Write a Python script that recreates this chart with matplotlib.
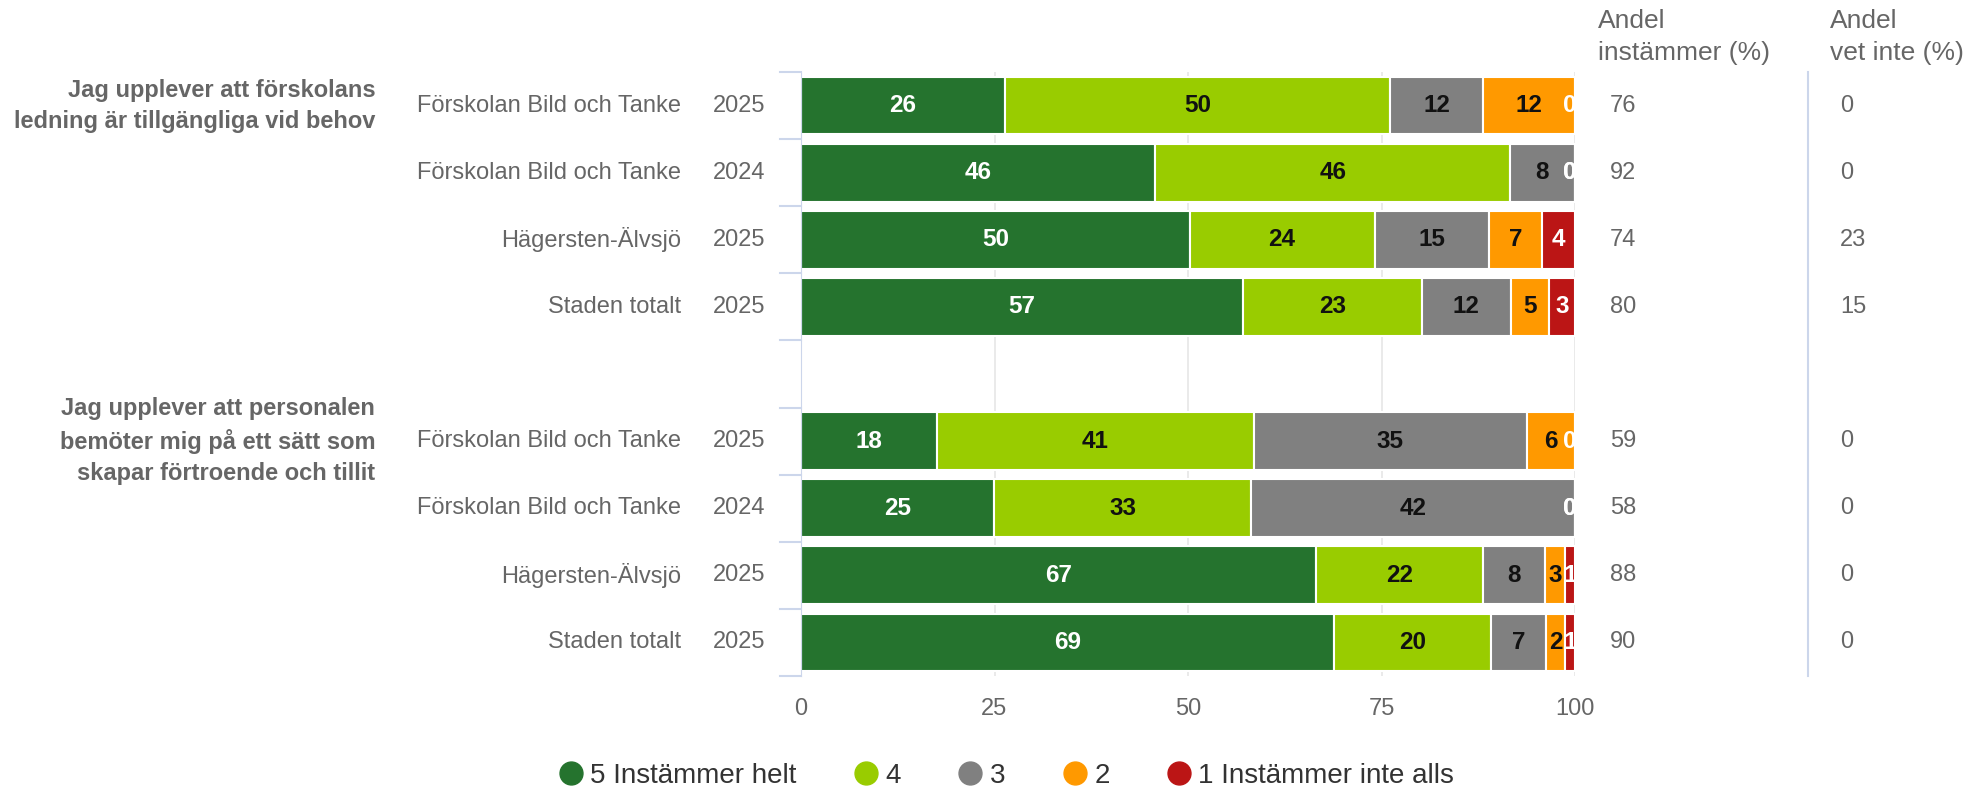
import matplotlib
matplotlib.use("Agg")
import matplotlib.pyplot as plt
from matplotlib.lines import Line2D

plt.rcParams['font.family'] = ['Liberation Sans', 'DejaVu Sans']

groups = ["Jag upplever att förskolans\nledning är tillgängliga vid behov",
          "Jag upplever att personalen\nbemöter mig på ett sätt som\nskapar förtroende och tillit"]
units = ["Förskolan Bild och Tanke", "Förskolan Bild och Tanke", "Hägersten-Älvsjö", "Staden totalt"]
years = ["2025", "2024", "2025", "2025"]
series_names = ["5 Instämmer helt", "4", "3", "2", "1 Instämmer inte alls"]
colors = ["#25732e", "#99cc00", "#808080", "#ff9900", "#bb1515"]
label_colors = ["white", "#111111", "#111111", "#111111", "white"]

# shares per row (series 5,4,3,2,1)
g1_values = [[26.3, 49.8, 12.0, 11.9, 0],
             [45.8, 45.8, 8.4, 0, 0],
             [50.2, 23.9, 14.8, 6.9, 4.2],
             [57.1, 23.1, 11.5, 5.0, 3.3]]
g2_values = [[17.6, 40.9, 35.3, 6.2, 0],
             [24.9, 33.3, 41.8, 0, 0],
             [66.6, 21.5, 8.0, 2.6, 1.3],
             [68.8, 20.4, 7.1, 2.4, 1.3]]
g1_agree = [76, 92, 74, 80]
g1_dontknow = [0, 0, 23, 15]
g2_agree = [59, 58, 88, 90]
g2_dontknow = [0, 0, 0, 0]
x_ticks = [0, 25, 50, 75, 100]

W, H = 1972, 791
fig = plt.figure(figsize=(W / 100, H / 100), dpi=100)
ax = fig.add_axes([801 / W, 115 / H, 774 / W, (676 - 72) / H])

ax.set_xlim(0, 100)
ax.set_ylim(8.5, -0.5)
for t in x_ticks:
    ax.axvline(t, color="#e6e6e6", lw=1.2, zorder=0)

grey = "#666666"
all_values = [g1_values, g2_values]
all_agree = [g1_agree, g2_agree]
all_dk = [g1_dontknow, g2_dontknow]
yaxis_tr = ax.get_yaxis_transform()

for gi in range(2):
    base = gi * 5
    for ri in range(4):
        y = base + ri
        left = 0
        for si, v in enumerate(all_values[gi][ri]):
            ax.barh(y, v, left=left, height=0.86, color=colors[si],
                    edgecolor="white", linewidth=1.5, zorder=2)
            if v > 0:
                ax.text(left + v / 2, y, str(int(round(v))), ha="center", va="center",
                        fontsize=17.5, fontweight="bold", color=label_colors[si], zorder=3)
            else:
                ax.text(min(left, 99.3), y, "0", ha="center", va="center",
                        fontsize=17.5, fontweight="bold", color="white", zorder=3,
                        clip_on=True)
            left += v
        ax.text(-0.155, y, units[ri], transform=yaxis_tr, ha="right", va="center",
                fontsize=17, color=grey)
        ax.text(-0.0465, y, years[ri], transform=yaxis_tr, ha="right", va="center",
                fontsize=17, color=grey)
        ax.text((1610 - 801) / 774, y, str(all_agree[gi][ri]), transform=yaxis_tr,
                ha="left", va="center", fontsize=17, color=grey, clip_on=False)
        ax.text((1840 - 801) / 774, y, str(all_dk[gi][ri]), transform=yaxis_tr,
                ha="left", va="center", fontsize=17, color=grey, clip_on=False)
    ax.text(-0.550, base, groups[gi], transform=yaxis_tr, ha="right", va="center",
            fontsize=17, fontweight="bold", color=grey, linespacing=1.45)

# category axis tick marks
for b in [i - 0.5 for i in range(10)]:
    ax.plot([-0.027, 0], [b, b], transform=yaxis_tr, color="#ccd6eb", lw=1.5,
            clip_on=False, zorder=1)

for s in ["top", "right", "bottom"]:
    ax.spines[s].set_visible(False)
ax.spines["left"].set_color("#ccd6eb")
ax.set_yticks([])
ax.set_xticks(x_ticks)
ax.set_xticklabels([str(t) for t in x_ticks])
ax.tick_params(axis="x", length=0, pad=16, labelsize=17, labelcolor=grey)

# separator line between right columns
fig.add_artist(Line2D([1808 / W, 1808 / W], [1 - 72 / H, 1 - 676 / H],
                      color="#ccd6eb", lw=1.5))

fig.text(1598 / W, 1 - 37 / H, "Andel\ninstämmer (%)", ha="left", va="center",
         fontsize=19, color=grey, linespacing=1.45)
fig.text(1830 / W, 1 - 37 / H, "Andel\nvet inte (%)", ha="left", va="center",
         fontsize=19, color=grey, linespacing=1.45)

handles = [Line2D([0], [0], marker="o", linestyle="none", markersize=16.5,
                  markerfacecolor=c, markeredgecolor=c) for c in colors]
fig.legend(handles, series_names, loc="center", bbox_to_anchor=(1007 / W, 15 / H),
           ncol=5, frameon=False, fontsize=20, handlelength=0.8, handletextpad=0.3,
           columnspacing=2.1, labelcolor="#333333")

fig.savefig("out.png", dpi=100)
